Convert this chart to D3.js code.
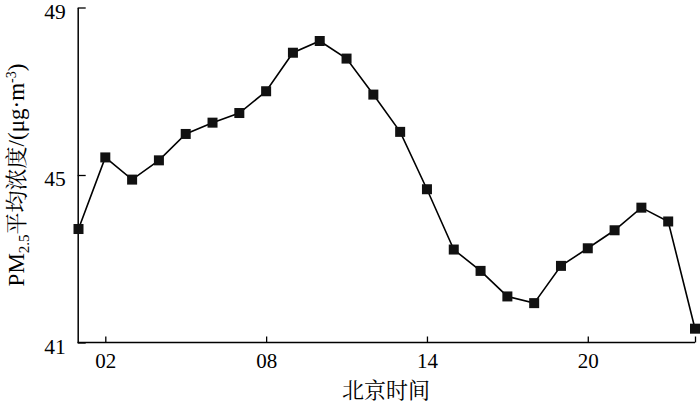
<!DOCTYPE html>
<html><head><meta charset="utf-8">
<script src="https://cdn.jsdelivr.net/npm/d3@7"></script>
<style>
body{margin:0;background:#fff;}
svg{display:block;}
</style></head>
<body>
<svg id="c" width="700" height="404"></svg>
<script>
const hours = [1,2,3,4,5,6,7,8,9,10,11,12,13,14,15,16,17,18,19,20,21,22,23,24];
const pm25 = [43.71,45.42,44.89,45.35,45.98,46.25,46.48,47.00,47.92,48.20,47.78,46.92,46.03,44.66,43.22,42.71,42.10,41.94,42.83,43.25,43.68,44.22,43.89,41.33];
const xTicks = [2,8,14,20,24];
const xTickLabels = ["02","08","14","20",""];
const yTicks = [41,45,49];
const xTitle = "北京时间";

const svg = d3.select("#c");
const x = d3.scaleLinear().domain([1,24]).range([78.5,695]);
const y = d3.scaleLinear().domain([41,49]).range([342.5,7.5]);
const fontLatin = "'Liberation Serif','Times New Roman',serif";
const fontCJK = "'Noto Serif CJK SC','Noto Sans CJK SC',serif";

const xAxis = d3.axisBottom(x).tickValues(xTicks).tickFormat((d,i)=>xTickLabels[i]).tickSize(-6).tickSizeOuter(0).tickPadding(10.5);
const gx = svg.append("g").attr("transform","translate(0,342.5)").call(xAxis);
gx.select(".domain").attr("stroke","#000").attr("stroke-width",1.5).attr("d","M77.7,0H695");
gx.selectAll(".tick line").attr("stroke","#000").attr("stroke-width",1.3);
gx.selectAll(".tick text").attr("fill","#000").style("font-family",fontLatin).style("font-size","21px");

const yAxis = d3.axisLeft(y).tickValues(yTicks).tickFormat(d3.format("d")).tickSize(-8).tickSizeOuter(0).tickPadding(12);
const gy = svg.append("g").attr("transform","translate(77.7,0)").call(yAxis);
gy.select(".domain").attr("stroke","#000").attr("stroke-width",1.5);
gy.selectAll(".tick line").attr("stroke","#000").attr("stroke-width",1.3);
gy.selectAll(".tick text").attr("fill","#000").attr("y",4).style("font-family",fontLatin).style("font-size","21.5px");

const line = d3.line().x((d,i)=>x(hours[i])).y(d=>y(d));
svg.append("path").datum(pm25).attr("d",line).attr("fill","none").attr("stroke","#000").attr("stroke-width",1.6);

const s = 10;
svg.append("g").selectAll("rect").data(pm25).join("rect")
  .attr("x",(d,i)=>x(hours[i])-s/2).attr("y",d=>y(d)-s/2)
  .attr("width",s).attr("height",s).attr("fill","#111");

svg.append("text").attr("x",386).attr("y",398).attr("text-anchor","middle")
  .style("font-family",fontCJK).style("font-size","22px").attr("fill","#000").text(xTitle);

const yt = svg.append("text").attr("transform","translate(24,175) rotate(-90)").attr("text-anchor","middle")
  .attr("fill","#000").style("font-size","23px");
yt.append("tspan").style("font-family",fontLatin).text("PM");
yt.append("tspan").style("font-family",fontLatin).style("font-size","15px").attr("dy",5).text("2.5");
yt.append("tspan").style("font-family",fontCJK).style("font-size","22px").attr("dy",-5).text("平均浓度");
yt.append("tspan").style("font-family",fontLatin).text("/(μg·m");
yt.append("tspan").style("font-family",fontLatin).style("font-size","14px").attr("dy",-8).text("-3");
yt.append("tspan").style("font-family",fontLatin).attr("dy",8).text(")");
</script>
</body></html>
